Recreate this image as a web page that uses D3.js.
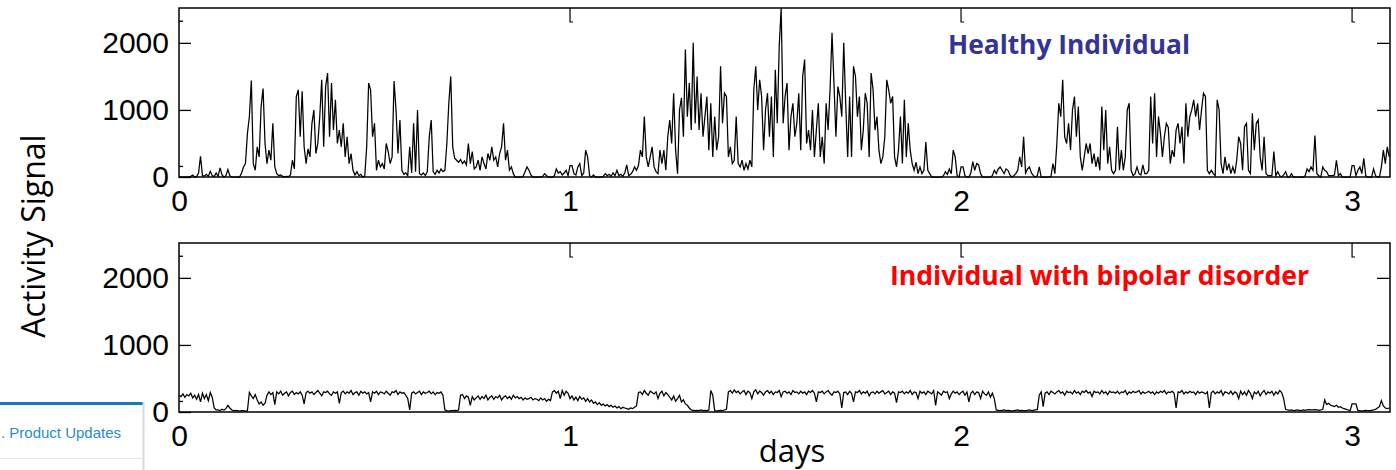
<!DOCTYPE html>
<html>
<head>
<meta charset="utf-8">
<script src="https://cdn.jsdelivr.net/npm/d3@7"></script>
<style>
  body { margin: 0; background: #fff; }
  svg { display: block; }
  .tick text { font-family: "Liberation Sans", Arial, sans-serif; font-size: 30px; fill: #000; }
  .tick line { stroke: #000; stroke-width: 1.3; }
</style>
</head>
<body>
<div id="chart"></div>
<script>
// activity counts, one sample every 0.005 day
var healthy = [
  0,0,0,0,0,0,10,30,0,5, 60,310,20,15,40,10,85,20,5,60,
  10,135,30,0,20,110,20,0,0,0, 0,0,60,150,200,650,900,1440,200,100,
  450,300,1050,1320,500,200,400,250,800,150, 50,20,30,10,0,10,5,30,250,120,
  1200,1300,600,1280,450,200,420,300,800,1000, 350,500,900,1450,450,1350,1550,600,1400,700,
  1150,500,700,450,800,300,600,200,350,100, 30,80,20,40,0,10,450,1400,1300,600,
  800,100,250,150,200,120,500,380,200,300, 1430,1000,350,850,100,40,60,20,450,60,
  800,80,1000,50,30,60,20,80,600,850, 80,40,100,60,120,80,100,500,1100,1500,
  450,280,250,220,260,200,240,180,500,200, 380,120,150,250,100,300,200,120,350,250,
  450,250,300,150,350,450,800,250,400,100, 150,50,0,0,0,0,10,80,150,100,
  30,0,0,0,0,0,10,50,20,0, 0,0,20,120,60,80,30,60,100,20,
  170,170,50,30,150,200,20,60,400,300, 20,0,30,0,0,0,0,10,50,20,
  40,10,60,20,100,20,40,10,60,180, 20,40,80,150,100,170,400,300,900,300,
  150,300,450,150,80,50,400,200,400,100, 600,850,500,1250,400,50,1000,1180,600,1900,
  900,1400,700,2000,800,1500,700,1250,600,900, 1200,400,1100,300,900,400,600,1650,800,1250,
  1200,300,450,200,250,900,200,150,250,100, 200,120,250,150,1300,1650,1000,1450,1200,400,
  1000,1250,600,1200,300,1600,800,1950,2520,800, 1200,1400,400,900,1100,600,800,1250,400,1500,
  1750,500,700,400,1000,300,700,1100,300,600, 200,1100,700,1300,2150,1400,600,1350,1200,900,
  2000,1100,300,1200,300,1650,1500,900,1200,400, 700,1250,1100,300,1550,1300,700,900,400,200,
  300,600,1450,1300,1100,1200,300,150,400,900, 200,1150,300,800,400,200,100,220,50,150,
  50,100,520,100,50,0,0,0,0,0, 0,20,80,40,120,50,400,300,20,0,
  150,150,20,0,0,60,230,100,200,180, 50,0,0,0,0,0,20,100,50,120,
  150,100,50,120,100,30,0,20,50,100, 300,150,600,60,120,150,60,20,0,20,
  150,0,0,0,0,0,10,200,50,500, 1100,900,1450,600,500,800,400,1000,1200,600,
  1050,300,100,300,500,350,500,200,350,150, 300,100,1050,400,1000,200,450,100,50,100,
  750,100,400,100,300,1000,1100,100,20,50, 150,50,30,180,50,50,100,1200,500,1250,
  300,900,650,300,600,800,740,200,400,300, 700,800,500,750,200,1100,600,900,1000,1150,
  900,1100,700,1000,1250,1200,100,50,100,50, 20,1150,1000,200,50,300,100,200,50,150,
  50,250,600,500,100,750,800,100,50,950, 400,800,850,300,100,600,50,20,20,20,
  380,20,80,20,0,30,80,0,0,50, 0,0,0,0,0,0,20,120,80,150,
  100,620,50,20,0,150,100,80,20,20, 20,30,250,20,50,0,0,0,0,0,
  170,170,20,100,150,50,280,20,0,0, 0,120,20,0,0,150,400,200,450,300
];

var bipolar = [
  250,230,270,220,260,240,280,210,250,190, 260,150,280,200,260,170,290,220,60,30,
  30,20,40,30,50,100,60,30,20,25, 20,15,20,20,15,20,290,240,200,260,
  180,120,150,100,130,250,300,260,290,110, 300,270,310,250,280,300,240,290,310,260,
  290,270,300,250,120,290,310,280,300,260, 290,320,280,240,300,290,310,270,250,300,
  280,300,130,290,310,270,300,280,320,260, 290,300,250,310,280,300,270,290,150,300,
  280,310,260,300,290,270,310,280,250,300, 290,320,260,300,280,290,250,200,30,280,
  300,270,290,310,260,300,280,290,310,270, 300,260,290,280,300,250,30,20,15,20,
  20,25,20,30,250,260,200,240,220,100, 230,180,210,240,190,230,200,250,180,220,
  240,190,230,210,250,180,220,240,200,230, 190,250,210,230,200,220,180,210,190,200,
  220,180,200,190,170,210,180,200,160,190, 170,300,320,280,310,200,320,250,310,280,
  200,240,180,220,170,230,190,210,160,200, 150,180,130,150,110,140,100,120,90,110,
  80,100,70,90,60,80,50,70,60,50, 40,60,50,70,90,290,300,260,320,280,
  250,310,290,270,300,200,280,310,240,290, 260,220,180,240,160,200,250,150,180,120,
  100,60,30,25,20,25,20,30,20,25, 20,30,320,250,20,15,20,25,20,30,
  40,300,320,280,330,290,310,270,300,320, 260,310,290,200,300,330,270,310,290,250,
  300,320,280,310,260,300,290,320,230,300, 310,280,300,260,320,290,300,270,310,280,
  300,260,310,290,320,280,150,300,290,310, 270,300,320,280,250,300,290,310,270,60,
  290,300,260,310,280,150,300,290,320,270, 300,280,310,240,290,300,270,310,280,300,
  320,270,290,310,260,300,280,140,300,290, 310,270,300,280,320,260,300,290,200,310,
  280,300,260,310,290,270,320,100,300,280, 250,310,290,300,200,270,310,280,300,260,
  290,310,250,300,150,280,310,260,300,290, 200,310,270,250,300,220,280,200,30,25,
  20,25,30,20,25,20,15,20,25,30, 20,25,20,20,25,30,20,25,30,35,
  250,300,80,280,300,260,310,290,270,300, 320,280,300,250,310,290,300,270,320,280,
  300,260,310,290,320,280,300,230,310,290, 300,270,320,280,300,260,310,290,300,280,
  310,270,300,290,320,260,300,280,310,290, 300,320,270,300,280,290,310,280,300,260,
  300,280,310,290,320,270,300,290,310,280, 60,300,290,320,270,300,280,310,290,300,
  260,310,280,300,290,270,300,60,290,310, 270,300,280,320,250,300,290,270,310,260,
  300,280,200,310,260,300,250,320,280,200, 300,270,310,240,290,320,260,300,280,310,
  250,300,270,320,290,200,40,30,25,30, 20,25,30,25,20,30,25,30,35,30,
  30,35,30,25,30,40,180,110,130,100, 90,80,100,70,80,60,50,40,30,20,
  120,120,120,20,20,15,20,25,20,20, 25,30,40,60,80,170,90,60,50,60
];

var dayStep = 0.005;
var xTicks = [0, 1, 2, 3];
var yTicks = [0, 1000, 2000];
var yMinorTicks = [165, 2330];
var yRightTicks = [1000, 2000];

var W = 1396, H = 470;
var left = 179, right = 1390, panelH = 169;

var panels = [
  { title: "Healthy Individual", values: healthy, top: 8, color: "#333399", tx: 948, ty: 54, tw: 242 },
  { title: "Individual with bipolar disorder", values: bipolar, top: 243, color: "#ff0000", tx: 890, ty: 285, tw: 419 }
];

var svg = d3.select("#chart").append("svg")
  .attr("width", W)
  .attr("height", H);

var x = d3.scaleLinear().domain([0, 3.097]).range([left, right]);

panels.forEach(function (p) {
  var y = d3.scaleLinear().domain([0, 2520]).range([p.top + panelH, p.top]);
  var g = svg.append("g");

  // left axis with labels
  g.append("g")
    .attr("transform", "translate(" + left + ",0)")
    .call(d3.axisLeft(y).tickValues(yTicks).tickSize(-12).tickPadding(10).tickFormat(d3.format("d")))
    .call(function (a) { a.select(".domain").remove(); });

  // the odd short ticks on the left
  g.append("g")
    .attr("transform", "translate(" + left + ",0)")
    .call(d3.axisLeft(y).tickValues(yMinorTicks).tickSize(-4).tickFormat(""))
    .call(function (a) { a.select(".domain").remove(); });

  // right side ticks
  g.append("g")
    .attr("transform", "translate(" + right + ",0)")
    .call(d3.axisRight(y).tickValues(yRightTicks).tickSize(-13).tickFormat(""))
    .call(function (a) { a.select(".domain").remove(); });

  // day labels under the panel
  g.append("g")
    .attr("transform", "translate(0," + (p.top + panelH) + ")")
    .call(d3.axisBottom(x).tickValues(xTicks).tickSize(0).tickPadding(13).tickFormat(d3.format("d")))
    .call(function (a) { a.select(".domain").remove(); });

  // small bracket ticks hanging from the top border
  g.selectAll(".topTick")
    .data(xTicks.slice(1))
    .enter()
    .append("path")
    .attr("class", "topTick")
    .attr("d", function (d) {
      return "M" + x(d) + "," + p.top + "V" + (p.top + 14) + "H" + (x(d) + 3);
    })
    .attr("fill", "none")
    .attr("stroke", "#000")
    .attr("stroke-width", 1.2);

  // frame
  g.append("rect")
    .attr("x", left)
    .attr("y", p.top)
    .attr("width", right - left)
    .attr("height", panelH)
    .attr("fill", "none")
    .attr("stroke", "#000")
    .attr("stroke-width", 1.5);

  var line = d3.line()
    .x(function (d, i) { return x(i * dayStep); })
    .y(function (d) { return y(d); });

  g.append("path")
    .datum(p.values)
    .attr("d", line)
    .attr("fill", "none")
    .attr("stroke", "#000")
    .attr("stroke-width", 1.25);

  g.append("text")
    .attr("x", p.tx)
    .attr("y", p.ty)
    .attr("textLength", p.tw)
    .attr("lengthAdjust", "spacingAndGlyphs")
    .style("font-family", "'Open Sans', sans-serif")
    .style("font-weight", "bold")
    .style("font-size", "27px")
    .style("fill", p.color)
    .text(p.title);
});

// axis titles
svg.append("text")
  .attr("transform", "translate(45,236) rotate(-90)")
  .attr("text-anchor", "middle")
  .style("font-family", "'Open Sans', sans-serif")
  .style("font-size", "32px")
  .text("Activity Signal");

svg.append("text")
  .attr("x", 792)
  .attr("y", 462)
  .attr("text-anchor", "middle")
  .style("font-family", "'Open Sans', sans-serif")
  .style("font-size", "31px")
  .text("days");

// the bit of web page widget caught in the corner
var wdg = svg.append("g");
wdg.append("rect").attr("x", 0).attr("y", 402).attr("width", 143).attr("height", 3).attr("fill", "#1479b8");
wdg.append("line").attr("x1", 143.5).attr("x2", 143.5).attr("y1", 402).attr("y2", 470)
  .attr("stroke", "#d8d8d8").attr("stroke-width", 2);
wdg.append("line").attr("x1", 0).attr("x2", 142).attr("y1", 458.5).attr("y2", 458.5)
  .attr("stroke", "#e6e6e6").attr("stroke-width", 1);
wdg.append("text")
  .attr("x", 1)
  .attr("y", 438)
  .style("font-family", "'Liberation Sans', Arial, sans-serif")
  .style("font-size", "15px")
  .style("fill", "#2a8cc8")
  .text(". Product Updates");
</script>
</body>
</html>
